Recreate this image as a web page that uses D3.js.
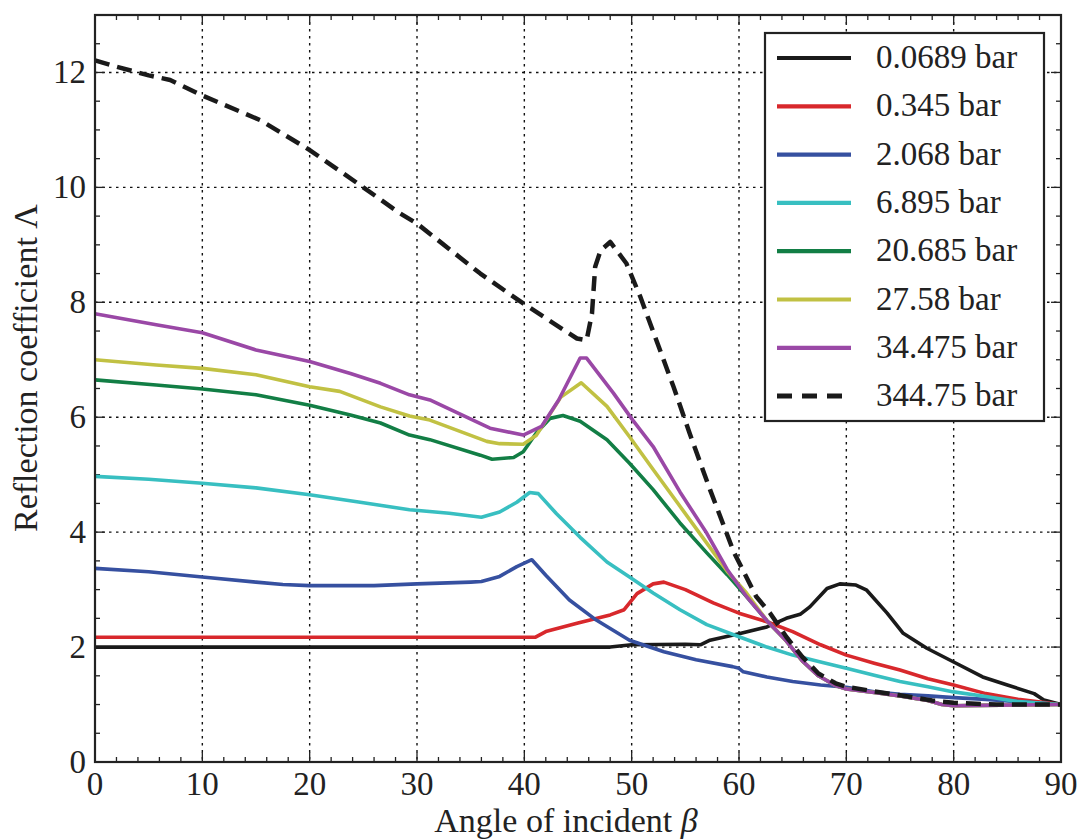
<!DOCTYPE html>
<html>
<head>
<meta charset="utf-8">
<title>Reflection coefficient</title>
<script src="https://cdn.jsdelivr.net/npm/d3@7"></script>
<style>
    body{ margin: 0; background: #fff; }
    svg text{ font-family: "Liberation Serif", "DejaVu Serif", serif; fill: #222; }
</style>
</head>
<body>
<svg id="chart" width="1083" height="840"></svg>
<script>

    // values, one pair of arrays per pressure
    var labels = ['0.0689 bar', '0.345 bar', '2.068 bar', '6.895 bar', '20.685 bar', '27.58 bar', '34.475 bar', '344.75 bar'];
    var colors = ['#1a1a1a', '#d8282c', '#3650a0', '#38bfc1', '#127e45', '#c1c143', '#9a48a6', '#1a1a1a'];

    var angle0 = [0, 48, 50, 55, 56.4, 57.3, 60, 62.6, 64.4, 65.7, 66.6, 68.2, 69.4, 70.9, 71.9, 73.8, 75.3, 77.5, 80, 82.7, 85, 87.5, 88.4, 90];
    var refl0  = [2.0, 2.0, 2.04, 2.05, 2.04, 2.12, 2.23, 2.35, 2.5, 2.57, 2.7, 3.02, 3.1, 3.08, 2.99, 2.59, 2.24, 1.98, 1.74, 1.48, 1.34, 1.19, 1.08, 1.0];

    var angle1 = [0, 41, 42, 45, 48, 49.3, 50.5, 52, 53, 55, 57.6, 60, 62.6, 65, 67.6, 70, 72.6, 75, 77.6, 80, 83, 86, 90];
    var refl1  = [2.17, 2.17, 2.27, 2.42, 2.56, 2.65, 2.93, 3.1, 3.13, 3.0, 2.77, 2.59, 2.44, 2.27, 2.04, 1.86, 1.72, 1.6, 1.45, 1.34, 1.19, 1.09, 1.0];

    var angle2 = [0, 5, 10, 15, 17.5, 20, 26, 30, 35, 36, 37.7, 39.3, 40.7, 42, 44.2, 46.7, 49.8, 53, 56, 59.4, 60, 60.4, 62.6, 65, 67.6, 70, 72.6, 75, 77.6, 80, 83, 86, 90];
    var refl2  = [3.37, 3.31, 3.22, 3.13, 3.09, 3.07, 3.07, 3.1, 3.13, 3.14, 3.23, 3.4, 3.52, 3.25, 2.82, 2.47, 2.12, 1.92, 1.78, 1.66, 1.63, 1.57, 1.48, 1.4, 1.34, 1.3, 1.22, 1.18, 1.15, 1.12, 1.09, 1.05, 1.0];

    var angle3 = [0, 5, 10, 15, 20, 24.4, 29.3, 33, 36, 37.7, 39.3, 40.5, 41.3, 43, 45.2, 47.7, 49.8, 52, 54.5, 57, 60, 62.6, 65, 67.6, 70, 72.6, 75, 77.6, 80, 83, 86, 90];
    var refl3  = [4.97, 4.92, 4.85, 4.77, 4.65, 4.53, 4.39, 4.33, 4.26, 4.35, 4.52, 4.69, 4.67, 4.32, 3.91, 3.48, 3.22, 2.94, 2.65, 2.39, 2.18, 2.0, 1.86, 1.74, 1.63, 1.51, 1.4, 1.31, 1.22, 1.14, 1.05, 1.0];

    var angle4 = [0, 5.7, 10, 15, 20, 23.8, 26.6, 29.3, 31.2, 35.9, 37, 39, 39.9, 41.1, 42.4, 43.6, 45.2, 47.7, 49.8, 52, 54.5, 57, 58.9, 60.7, 62.6, 64.4, 65.9, 67.4, 69, 70, 72.6, 75, 77.6, 78.9, 80, 84.4, 90];
    var refl4  = [6.65, 6.56, 6.49, 6.39, 6.21, 6.04, 5.9, 5.69, 5.61, 5.34, 5.27, 5.3, 5.4, 5.72, 5.98, 6.03, 5.93, 5.61, 5.2, 4.74, 4.16, 3.64, 3.26, 2.88, 2.46, 2.11, 1.76, 1.5, 1.33, 1.27, 1.21, 1.15, 1.07, 1.0, 0.98, 0.99, 1.0];

    var angle5 = [0, 5.7, 10, 15, 20, 22.8, 26.6, 29.3, 31.2, 36.5, 37.7, 39.9, 41.1, 43.4, 45.3, 47.7, 49.8, 52, 54.5, 57, 58.9, 60.7, 62.6, 64.4, 65.9, 67.4, 69, 70, 72.6, 75, 77.6, 78.9, 80, 84.4, 90];
    var refl5  = [7.0, 6.91, 6.85, 6.74, 6.53, 6.45, 6.18, 6.02, 5.95, 5.58, 5.54, 5.53, 5.68, 6.35, 6.6, 6.19, 5.66, 5.09, 4.45, 3.81, 3.32, 2.94, 2.46, 2.11, 1.76, 1.5, 1.33, 1.27, 1.21, 1.15, 1.07, 1.0, 0.98, 0.99, 1.0];

    var angle6 = [0, 5.7, 10, 15, 20, 23.8, 26.6, 29.3, 31.2, 36.8, 39.9, 41.6, 43.2, 45.2, 45.8, 48.3, 50.1, 52, 54.5, 57, 58.9, 60.7, 62.6, 64.4, 65.9, 67.4, 69, 70, 72.6, 75, 77.6, 78.9, 80, 84.4, 90];
    var refl6  = [7.8, 7.61, 7.47, 7.17, 6.97, 6.76, 6.59, 6.39, 6.3, 5.81, 5.69, 5.84, 6.3, 7.03, 7.03, 6.42, 5.95, 5.49, 4.7, 3.98, 3.35, 2.88, 2.46, 2.11, 1.76, 1.5, 1.33, 1.27, 1.21, 1.15, 1.07, 1.0, 0.98, 0.99, 1.0];

    var angle7 = [0, 2, 5, 7, 10, 15.4, 20, 24.7, 28.4, 30, 35.9, 39.9, 44.9, 45.8, 46.3, 46.6, 47.1, 48, 49.5, 50.8, 52.3, 53.9, 55.4, 57.3, 59.5, 61.6, 62.9, 64.4, 65.9, 67.4, 69, 70, 72.6, 75, 78, 80, 84, 90];
    var refl7  = [12.21, 12.1, 11.95, 11.87, 11.6, 11.17, 10.65, 10.04, 9.55, 9.37, 8.5, 7.98, 7.37, 7.34, 7.8, 8.62, 8.9, 9.05, 8.68, 8.1, 7.34, 6.53, 5.72, 4.74, 3.66, 2.88, 2.59, 2.18, 1.83, 1.54, 1.37, 1.31, 1.23, 1.16, 1.07, 1.03, 1.0, 1.0];

    var angles = [angle0, angle1, angle2, angle3, angle4, angle5, angle6, angle7];
    var refls = [refl0, refl1, refl2, refl3, refl4, refl5, refl6, refl7];

    var xTicks = [0, 10, 20, 30, 40, 50, 60, 70, 80, 90];
    var yTicks = [0, 2, 4, 6, 8, 10, 12];

    var padL = 95, padR = 1061, padT = 15, padB = 762;
    var svg = d3.select('#chart');

    var x = d3.scaleLinear().domain([0, 90]).range([padL, padR]);
    var y = d3.scaleLinear().domain([0, 13]).range([padB, padT]);

    // dotted grid
    var grid = svg.append('g');
    grid.selectAll('.vg').data(xTicks.slice(1, -1)).enter().append('line')
        .attr('x1', function(d){ return x(d); }).attr('x2', function(d){ return x(d); })
        .attr('y1', padT).attr('y2', padB)
        .attr('stroke', '#111').attr('stroke-width', 1.4).attr('stroke-dasharray', '2.5,4.5');
    grid.selectAll('.hg').data(yTicks.slice(1)).enter().append('line')
        .attr('y1', function(d){ return y(d); }).attr('y2', function(d){ return y(d); })
        .attr('x1', padL).attr('x2', padR)
        .attr('stroke', '#111').attr('stroke-width', 1.4).attr('stroke-dasharray', '2.5,4.5');

    // inward ticks on all four sides
    var xMinor = d3.range(0, 90.01, 2);
    var yMinor = d3.range(0, 13.01, 0.5);
    function tickLen(v, step){ return Math.abs(v / step - Math.round(v / step)) < 1e-6 ? 10 : 5; }
    var ticks = svg.append('g').attr('stroke', '#222').attr('stroke-width', 1.3);
    xMinor.forEach(function(v){
        var L = tickLen(v, 10);
        ticks.append('line').attr('x1', x(v)).attr('x2', x(v)).attr('y1', padB).attr('y2', padB - L);
        ticks.append('line').attr('x1', x(v)).attr('x2', x(v)).attr('y1', padT).attr('y2', padT + L);
    });
    yMinor.forEach(function(v){
        var L = tickLen(v, 2);
        ticks.append('line').attr('y1', y(v)).attr('y2', y(v)).attr('x1', padL).attr('x2', padL + L);
        ticks.append('line').attr('y1', y(v)).attr('y2', y(v)).attr('x1', padR).attr('x2', padR - L);
    });

    // curves
    var line = d3.line()
        .x(function(d){ return x(d[0]); })
        .y(function(d){ return y(d[1]); });

    var curves = svg.append('g');
    labels.forEach(function(lab, i){
        var pts = d3.zip(angles[i], refls[i]);
        var path = curves.append('path')
            .datum(pts)
            .attr('d', line)
            .attr('fill', 'none')
            .attr('stroke', colors[i])
            .attr('stroke-width', i == 7 ? 4.5 : 3.6)
            .attr('stroke-linejoin', 'round');
        if (i == 7) path.attr('stroke-dasharray', '15,8');
    });

    // frame
    svg.append('rect')
        .attr('x', padL).attr('y', padT)
        .attr('width', padR - padL).attr('height', padB - padT)
        .attr('fill', 'none').attr('stroke', '#222').attr('stroke-width', 2.2);

    // tick labels
    svg.append('g').selectAll('text').data(xTicks).enter().append('text')
        .attr('x', function(d){ return x(d); })
        .attr('y', 795)
        .attr('text-anchor', 'middle')
        .style('font-size', '33px')
        .text(function(d){ return d; });
    svg.append('g').selectAll('text').data(yTicks).enter().append('text')
        .attr('x', 86)
        .attr('y', function(d){ return y(d) + 11; })
        .attr('text-anchor', 'end')
        .style('font-size', '33px')
        .text(function(d){ return d; });

    // axis titles
    var xt = svg.append('text')
        .attr('x', 566).attr('y', 832)
        .attr('text-anchor', 'middle')
        .style('font-size', '34px');
    xt.append('tspan').text('Angle of incident ');
    xt.append('tspan').style('font-style', 'italic').text('β');

    svg.append('text')
        .attr('transform', 'translate(37,368) rotate(-90)')
        .attr('text-anchor', 'middle')
        .style('font-size', '34px')
        .text('Reflection coefficient Λ');

    // legend
    var legend = svg.append('g');
    legend.append('rect')
        .attr('x', 765).attr('y', 33).attr('width', 279).attr('height', 388)
        .attr('fill', '#fff').attr('stroke', '#222').attr('stroke-width', 2.2);
    labels.forEach(function(lab, i){
        var ly = 58 + i * 48.3;
        var l = legend.append('line')
            .attr('x1', 777).attr('x2', 851).attr('y1', ly).attr('y2', ly)
            .attr('stroke', colors[i]).attr('stroke-width', i == 7 ? 5 : 4.2);
        if (i == 7) l.attr('stroke-dasharray', '15,10');
        legend.append('text')
            .attr('x', 876).attr('y', ly + 10)
            .style('font-size', '33px')
            .text(lab);
    });

</script>
</body>
</html>
